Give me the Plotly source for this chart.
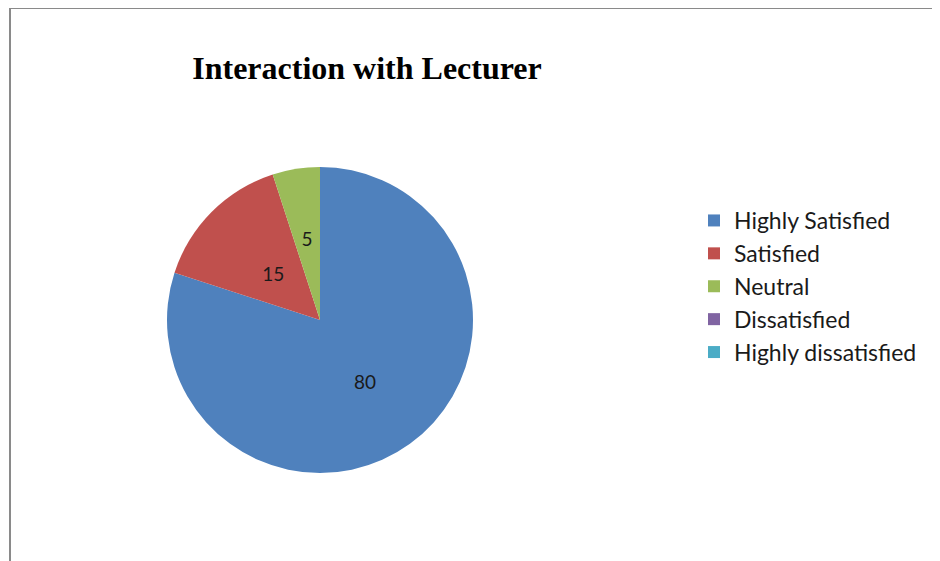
import plotly.graph_objects as go

labels = ["Highly Satisfied", "Satisfied", "Neutral", "Dissatisfied", "Highly dissatisfied"]
values = [80, 15, 5, 0, 0]
colors = ["#4F81BD", "#C0504D", "#9BBB59", "#8064A2", "#4BACC6"]

W, H = 940, 561
OFF = 8  # page body margin pushes the plot 8px right/down


def px(x):
    return (x - OFF) / W


def py(y):
    return 1 - (y - OFF) / H


CX, CY, R = 320, 320, 153
R_SMALL = 96  # inner overlay so small-slice labels sit nearer the centre

label_font = dict(family="Lato, sans-serif", size=19, color="#1a1a1a")

fig = go.Figure()
fig.add_trace(go.Pie(
    labels=labels,
    values=values,
    sort=False,
    direction="clockwise",
    rotation=0,
    marker=dict(colors=colors, line=dict(width=0)),
    texttemplate=["%{value}", "", "", "", ""],
    textposition="inside",
    insidetextorientation="horizontal",
    textfont=label_font,
    domain=dict(x=[px(CX - R), px(CX + R)], y=[py(CY + R), py(CY - R)]),
    hoverinfo="label+value",
))

# transparent overlay carrying the labels of the two thin slices
fig.add_trace(go.Pie(
    labels=labels,
    values=values,
    sort=False,
    direction="clockwise",
    rotation=0,
    marker=dict(colors=["rgba(0,0,0,0)"] * 5, line=dict(width=0)),
    texttemplate=["", "%{value}", "%{value}", "", ""],
    textposition="inside",
    insidetextorientation="horizontal",
    textfont=label_font,
    domain=dict(x=[px(CX - R_SMALL), px(CX + R_SMALL)],
                y=[py(CY + R_SMALL), py(CY - R_SMALL)]),
    hoverinfo="skip",
    showlegend=False,
))

# frame lines (left and top only)
fig.add_shape(type="line", xref="paper", yref="paper",
              x0=px(10), x1=1, y0=py(8), y1=py(8),
              line=dict(color="#8a8a8a", width=2))
fig.add_shape(type="line", xref="paper", yref="paper",
              x0=px(10), x1=px(10), y0=0, y1=py(8),
              line=dict(color="#8a8a8a", width=2))

fig.update_layout(
    width=W, height=H,
    margin=dict(l=0, r=0, t=0, b=0),
    paper_bgcolor="white",
    plot_bgcolor="white",
    title=dict(
        text="<b>Interaction with Lecturer</b>",
        x=px(367), xanchor="center",
        y=py(68), yanchor="middle",
        font=dict(family="Liberation Serif, Times New Roman, serif", size=32, color="black"),
    ),
    legend=dict(
        x=px(694), xanchor="left",
        y=py(199), yanchor="top",
        font=dict(family="Lato, sans-serif", size=23, color="#1a1a1a"),
        itemsizing="constant",
        tracegroupgap=0,
    ),
)

fig.write_html("out.html")
